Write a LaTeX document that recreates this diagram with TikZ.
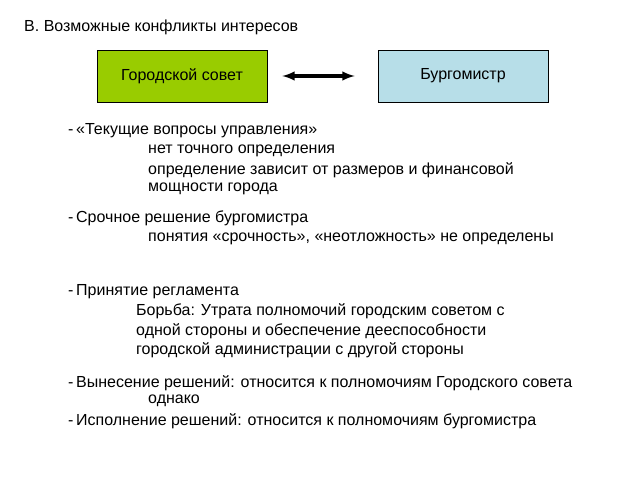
\documentclass[tikz,border=0pt]{standalone}
\usepackage{fontspec}
\setmainfont{Liberation Sans}
\definecolor{boxgreen}{RGB}{153,204,0}
\definecolor{boxblue}{RGB}{183,222,232}
\begin{document}
\begin{tikzpicture}[x=1pt,y=-1pt,
	txt/.style={anchor=west,inner sep=0pt,font=\fontsize{16}{18}\selectfont},
	party/.style={draw,semithick,minimum width=170pt,minimum height=52pt,inner sep=0pt,font=\fontsize{16}{18}\selectfont}]
	\useasboundingbox (0,0) rectangle (638,479);

	% title
	\node[txt] (title) at (24,27) {В. Возможные конфликты интересов};

	% parties
	\node[party,fill=boxgreen] (council) at (182,76) {Городской совет};
	\node[party,fill=boxblue] (mayor) at (463,76) {Бургомистр};
	\draw [line width=3.2pt,<->,>=latex] ([xshift=15pt]council.east) -- ([xshift=-23pt]mayor.west);

	% current questions
	\node[txt] (q1) at (68,131) {-\,«Текущие вопросы управления»};
	\node[txt] (q1a) at (148,151) {нет точного определения};
	\node[txt] (q1b) at (148,170) {определение зависит от размеров и финансовой};
	\node[txt] (q1c) at (148,189) {мощности города};

	% urgent decision
	\node[txt] (q2) at (68,218) {-\,Срочное решение бургомистра};
	\node[txt] (q2a) at (148,239) {понятия «срочность», «неотложность» не определены};

	% rules
	\node[txt] (q3) at (68,292) {-\,Принятие регламента};
	\node[txt] (q3a) at (136,311) {Борьба: Утрата полномочий городским советом с};
	\node[txt] (q3b) at (136,331) {одной стороны и обеспечение дееспособности};
	\node[txt] (q3c) at (136,350) {городской администрации с другой стороны};

	% decisions
	\node[txt] (q4) at (68,383) {-\,Вынесение решений: относится к полномочиям Городского совета};
	\node[txt] (q4a) at (148,401) {однако};
	\node[txt] (q5) at (68,421) {-\,Исполнение решений: относится к полномочиям бургомистра};
\end{tikzpicture}
\end{document}
